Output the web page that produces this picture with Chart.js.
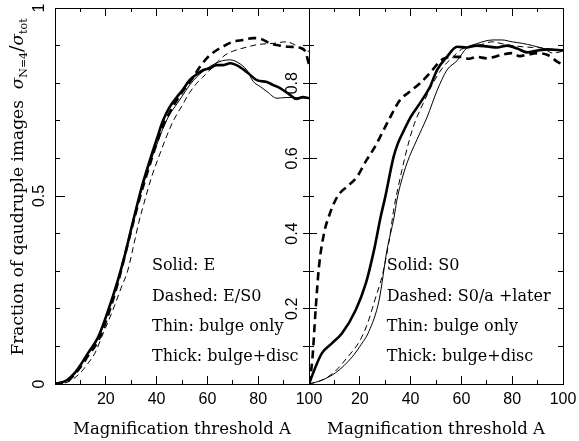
<!DOCTYPE html>
<html><head><meta charset="utf-8">
<script src="https://cdn.jsdelivr.net/npm/chart.js@4.4.0/dist/chart.umd.min.js"></script>
<style>
html,body{margin:0;padding:0;background:#fff;}
#wrap{position:relative;width:579px;height:441px;background:#fff;}
canvas{position:absolute;left:0;top:0;}
</style></head><body>
<div id="wrap"><canvas id="cL" width="579" height="441"></canvas><canvas id="cR" width="579" height="441"></canvas></div>
<script>
// ---- tick labels / texts ----
const xTickLabels = ['', '20', '40', '60', '80', '100'];
const leftYTickLabels = ['0', '0.5', '1'];
const rightYTickLabels = ['', '0.2', '0.4', '0.6', '0.8', ''];
const xTitle = 'Magnification threshold A';
const leftNotes = ['Solid: E', 'Dashed: E/S0', 'Thin: bulge only', 'Thick: bulge+disc'];
const rightNotes = ['Solid: S0', 'Dashed: S0/a +later', 'Thin: bulge only', 'Thick: bulge+disc'];

// ---- left panel: E (solid) and E/S0 (dashed) ----
const E_thick_A = [0, 4.6, 7.9, 10, 13, 17, 21, 24.8, 27, 31, 34, 37.4, 40, 42.5, 45, 48, 50, 53, 55, 58.4, 61, 63.6, 66, 69, 72.8, 76, 79.5, 83.4, 86, 88.6, 92.5, 95, 97.6, 100];
const E_thick_F = [0, 0.01, 0.03, 0.05, 0.082, 0.125, 0.197, 0.277, 0.33, 0.44, 0.52, 0.596, 0.65, 0.70, 0.735, 0.763, 0.78, 0.808, 0.82, 0.835, 0.84, 0.848, 0.848, 0.853, 0.843, 0.827, 0.808, 0.803, 0.795, 0.787, 0.769, 0.758, 0.763, 0.76];
const E_thin_A = [0, 5, 8, 10, 13, 17, 21, 25, 27.5, 31, 34, 37.5, 40, 42.5, 45, 48, 50, 53, 56, 60, 63, 66, 69, 72, 75.5, 78, 81, 83.4, 87.4, 91, 95, 100];
const E_thin_F = [0, 0.01, 0.03, 0.048, 0.08, 0.122, 0.195, 0.285, 0.34, 0.44, 0.515, 0.59, 0.635, 0.68, 0.715, 0.745, 0.765, 0.795, 0.818, 0.84, 0.852, 0.86, 0.862, 0.855, 0.835, 0.805, 0.79, 0.778, 0.76, 0.762, 0.762, 0.76];
const ES0_thin_A = [0, 5, 10, 13, 15.7, 19, 22.8, 26, 28.7, 31, 33, 35, 38, 41.3, 44, 46.6, 50, 53, 55.8, 58, 61, 64, 67, 70, 75.5, 80, 86, 91, 95, 97.6, 100];
const ES0_thin_F = [0, 0.005, 0.03, 0.055, 0.082, 0.135, 0.197, 0.255, 0.303, 0.37, 0.43, 0.48, 0.55, 0.612, 0.66, 0.70, 0.74, 0.775, 0.80, 0.815, 0.835, 0.857, 0.875, 0.885, 0.896, 0.903, 0.906, 0.91, 0.90, 0.888, 0.885];
const ES0_thick_A = [0, 5, 10, 13, 17, 21, 25, 28, 31, 34, 37.4, 40, 42.5, 45, 48, 51, 54, 57, 60, 63, 66, 70, 74, 78, 81, 85, 88.6, 92, 96.5, 98.5, 100];
const ES0_thick_F = [0, 0.008, 0.045, 0.075, 0.115, 0.185, 0.275, 0.355, 0.435, 0.51, 0.585, 0.64, 0.685, 0.72, 0.755, 0.785, 0.812, 0.843, 0.868, 0.885, 0.897, 0.91, 0.915, 0.92, 0.918, 0.905, 0.90, 0.897, 0.894, 0.885, 0.85];

// ---- right panel: S0 (solid) and S0/a +later (dashed) ----
const S0_thick_A = [0, 2.6, 5.1, 9, 13, 18.4, 22.4, 25.6, 28.2, 30, 33.3, 35, 37.4, 40, 43.7, 47.6, 50.4, 54.3, 58.3, 62, 66, 70, 74, 78, 82, 86, 90, 94, 100];
const S0_thick_F = [0, 0.046, 0.082, 0.108, 0.135, 0.197, 0.268, 0.356, 0.444, 0.497, 0.604, 0.64, 0.675, 0.71, 0.747, 0.79, 0.835, 0.87, 0.897, 0.895, 0.9, 0.898, 0.895, 0.9, 0.892, 0.882, 0.887, 0.89, 0.887];
const S0_thin_A = [0, 5, 10.5, 17, 20, 23.6, 27.6, 30.7, 33.5, 34.6, 36, 38.6, 42.5, 46.5, 50.4, 54.3, 58.3, 62, 66, 72.4, 76, 80, 84, 88, 92, 96, 100];
const S0_thin_F = [0, 0.01, 0.03, 0.072, 0.1, 0.14, 0.223, 0.356, 0.444, 0.489, 0.53, 0.588, 0.65, 0.71, 0.78, 0.835, 0.86, 0.893, 0.905, 0.915, 0.915, 0.91, 0.906, 0.9, 0.893, 0.887, 0.89];
const S0a_thin_A = [0, 5, 10, 15, 20, 23, 26, 28.9, 31.6, 33.5, 35, 37.8, 41, 45, 48.8, 52.8, 56.7, 60, 64, 68, 72, 76, 80, 84, 88, 92, 96, 100];
const S0a_thin_F = [0, 0.01, 0.032, 0.07, 0.115, 0.16, 0.225, 0.29, 0.383, 0.47, 0.52, 0.604, 0.683, 0.747, 0.80, 0.843, 0.87, 0.89, 0.9, 0.903, 0.91, 0.905, 0.9, 0.897, 0.895, 0.893, 0.88, 0.885];
const S0a_thick_A = [0, 1.3, 2.6, 3.9, 5.9, 8.3, 10.5, 12.2, 15, 18.8, 22.7, 25, 28, 32, 35.8, 39, 43.7, 47.6, 50.8, 53, 56.7, 60, 63, 66, 70, 73, 76, 80, 83, 86, 90, 94, 98, 100];
const S0a_thick_F = [0, 0.064, 0.197, 0.31, 0.40, 0.455, 0.49, 0.508, 0.525, 0.55, 0.596, 0.62, 0.657, 0.71, 0.755, 0.774, 0.80, 0.827, 0.853, 0.865, 0.87, 0.87, 0.865, 0.87, 0.866, 0.87, 0.876, 0.88, 0.872, 0.876, 0.88, 0.875, 0.856, 0.85];

// ---- helpers ----
const SANS = '"Liberation Sans", Arial, sans-serif';
const SERIF = '"DejaVu Serif", serif';
const STYLE = {
  thinSolid: {borderWidth: 1, borderDash: []},
  thickSolid: {borderWidth: 2.6, borderDash: []},
  thinDash: {borderWidth: 1, borderDash: [6, 4]},
  thickDash: {borderWidth: 2.6, borderDash: [8, 5]}
};
function pts(a, f) { return a.map((x, i) => ({x: x, y: f[i]})); }
function ds(a, f, st) {
  return Object.assign({data: pts(a, f), borderColor: '#000', pointRadius: 0, fill: false,
    cubicInterpolationMode: 'monotone', xAxisID: 'x', yAxisID: 'y', borderCapStyle: 'butt'}, st);
}
function zeroPad(s) { s.paddingLeft = 0; s.paddingRight = 0; s.paddingTop = 0; s.paddingBottom = 0; }
function tickAxis(pos, step, len, weight) {
  const horiz = (pos === 'top' || pos === 'bottom');
  return {
    type: 'linear', position: pos, weight: weight || 0, min: 0, max: horiz ? 100 : 1,
    grid: {drawOnChartArea: false, drawTicks: true, tickLength: -len, tickColor: '#000', tickWidth: 1},
    border: {display: true, color: '#000', width: 1},
    ticks: {display: false, stepSize: step, autoSkip: false},
    afterFit(s) { if (horiz) s.height = 0; else s.width = 0; zeroPad(s); }
  };
}
function mainX() {
  return {
    type: 'linear', position: 'bottom', weight: 1, min: 0, max: 100,
    grid: {drawOnChartArea: false, drawTicks: true, tickLength: -8, tickColor: '#000', tickWidth: 1},
    border: {display: true, color: '#000', width: 1},
    ticks: {display: true, stepSize: 20, autoSkip: false, minRotation: 0, maxRotation: 0, padding: 14,
      color: '#000', font: {family: SANS, size: 16}, callback: (v, i) => xTickLabels[i]},
    title: {display: true, text: xTitle, color: '#000', font: {family: SERIF, size: 16.5}, padding: {top: 0, bottom: 1}},
    afterFit(s) { s.height = 57; zeroPad(s); }
  };
}
function mainY(step, len, labels, width, pad) {
  return {
    type: 'linear', position: 'left', weight: 1, min: 0, max: 1,
    grid: {drawOnChartArea: false, drawTicks: true, tickLength: -len, tickColor: '#000', tickWidth: 1},
    border: {display: true, color: '#000', width: 1},
    ticks: {display: true, stepSize: step, autoSkip: false, minRotation: 90, maxRotation: 90, crossAlign: 'center',
      padding: pad, color: '#000', font: {family: SANS, size: 16}, callback: (v, i) => labels[i]},
    afterFit(s) { s.width = width; zeroPad(s); }
  };
}
const noteRows = [0.313, 0.232, 0.152, 0.072];
function notesPlugin(notes, ax) {
  return {
    id: 'notes',
    afterDatasetsDraw(chart) {
      const ctx = chart.ctx, sx = chart.scales.x, sy = chart.scales.y;
      ctx.save();
      ctx.font = '16px ' + SERIF; ctx.fillStyle = '#000';
      ctx.textBaseline = 'middle'; ctx.textAlign = 'left';
      notes.forEach((t, i) => ctx.fillText(t, sx.getPixelForValue(ax), sy.getPixelForValue(noteRows[i])));
      ctx.restore();
    }
  };
}
const yTitlePlugin = {
  id: 'ytitle',
  afterDraw(chart) {
    const ctx = chart.ctx;
    const segs = [
      {t: 'Fraction of qaudruple images  ', f: '17px ' + SERIF, dy: 0},
      {t: 'σ', f: 'italic 17px ' + SERIF, dy: 0},
      {t: 'N=4', f: '11px ' + SERIF, dy: 5},
      {t: '/', f: '19px ' + SERIF, dy: -1},
      {t: 'σ', f: 'italic 17px ' + SERIF, dy: 0},
      {t: 'tot', f: '11px ' + SERIF, dy: 5}
    ];
    ctx.save();
    let total = 0;
    segs.forEach(s => { ctx.font = s.f; s.w = ctx.measureText(s.t).width; total += s.w; });
    ctx.translate(19, 187);
    ctx.rotate(-Math.PI / 2);
    ctx.fillStyle = '#000'; ctx.textBaseline = 'middle'; ctx.textAlign = 'left';
    let x = -total / 2;
    segs.forEach(s => { ctx.font = s.f; ctx.fillText(s.t, x, s.dy); x += s.w; });
    ctx.restore();
  }
};

Chart.defaults.animation = false;

new Chart(document.getElementById('cL'), {
  type: 'line',
  data: {datasets: [
    ds(E_thin_A, E_thin_F, STYLE.thinSolid),
    ds(E_thick_A, E_thick_F, STYLE.thickSolid),
    ds(ES0_thin_A, ES0_thin_F, STYLE.thinDash),
    ds(ES0_thick_A, ES0_thick_F, STYLE.thickDash)
  ]},
  options: {
    responsive: false, animation: false,
    layout: {padding: {left: 0, top: 8, right: 270, bottom: 0}},
    plugins: {legend: {display: false}, tooltip: {enabled: false}},
    scales: {
      x: mainX(),
      xm: tickAxis('bottom', 10, 4, 0),
      xt: tickAxis('top', 20, 8, 0),
      xtm: tickAxis('top', 10, 4, 0),
      y: mainY(0.5, 10, leftYTickLabels, 55, 14),
      ym: tickAxis('left', 0.1, 5, 0),
      yr: tickAxis('right', 0.1, 6, 0)
    }
  },
  plugins: [notesPlugin(leftNotes, 38.2), yTitlePlugin]
});

new Chart(document.getElementById('cR'), {
  type: 'line',
  data: {datasets: [
    ds(S0_thin_A, S0_thin_F, STYLE.thinSolid),
    ds(S0_thick_A, S0_thick_F, STYLE.thickSolid),
    ds(S0a_thin_A, S0a_thin_F, STYLE.thinDash),
    ds(S0a_thick_A, S0a_thick_F, STYLE.thickDash)
  ]},
  options: {
    responsive: false, animation: false,
    layout: {padding: {left: 0, top: 8, right: 16, bottom: 0}},
    plugins: {legend: {display: false}, tooltip: {enabled: false}},
    scales: {
      x: mainX(),
      xm: tickAxis('bottom', 10, 4, 0),
      xt: tickAxis('top', 20, 8, 0),
      xtm: tickAxis('top', 10, 4, 0),
      y: mainY(0.2, 8, rightYTickLabels, 309, 13),
      ym: tickAxis('left', 0.1, 5, 0),
      yr: tickAxis('right', 0.1, 5, 0)
    }
  },
  plugins: [notesPlugin(rightNotes, 30.6)]
});
</script>
</body></html>
